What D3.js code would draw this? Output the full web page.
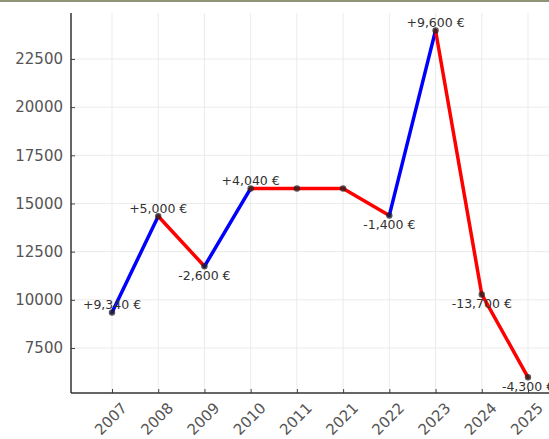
<!DOCTYPE html>
<html>
<head>
<meta charset="utf-8">
<script src="https://cdn.jsdelivr.net/npm/d3@7"></script>
<style>
  body { margin: 0; overflow: hidden; background: #fff; }
  svg { display: block; font-family: "DejaVu Sans", sans-serif; }
</style>
</head>
<body>
<div class="chart"></div>
<script>
// data
let years = ["2007", "2008", "2009", "2010", "2011", "2021", "2022", "2023", "2024", "2025"];
let values = [9340, 14340, 11740, 15780, 15780, 15780, 14380, 23980, 10280, 5980];
let changes = [9340, 5000, -2600, 4040, 0, 0, -1400, 9600, -13700, -4300];
let yTicks = [7500, 10000, 12500, 15000, 17500, 20000, 22500];

let svgWidth = 549;
let svgHeight = 439;

// axes box (right side runs off the picture)
let plotLeft = 71, plotTop = 13, plotBottom = 393;

let svg = d3.select(".chart").append("svg")
  .attr("width", svgWidth)
  .attr("height", svgHeight);

// thin frame line at the very top
svg.append("rect")
  .attr("x", 0).attr("y", 0)
  .attr("width", svgWidth).attr("height", 2)
  .attr("fill", "#8f9477");

let x = d3.scalePoint().domain(years).range([112, 528]);
let y = d3.scaleLinear().domain([5165, 24885]).range([plotBottom, plotTop]);

// grid
let grid = svg.append("g");
grid.selectAll("line.v")
  .data(years)
  .enter().append("line")
  .attr("class", "v")
  .attr("x1", d => x(d)).attr("x2", d => x(d))
  .attr("y1", plotTop).attr("y2", plotBottom)
  .attr("stroke", "#ebebeb").attr("stroke-width", 1);
grid.selectAll("line.h")
  .data(yTicks)
  .enter().append("line")
  .attr("class", "h")
  .attr("x1", plotLeft).attr("x2", svgWidth)
  .attr("y1", d => y(d)).attr("y2", d => y(d))
  .attr("stroke", "#ebebeb").attr("stroke-width", 1);

// y axis with inward ticks
let yAxis = svg.append("g")
  .attr("transform", `translate(${plotLeft},0)`)
  .call(d3.axisLeft(y).tickValues(yTicks).tickSizeInner(-4).tickSizeOuter(0).tickPadding(8).tickFormat(d3.format("d")));
yAxis.select(".domain").remove();
yAxis.selectAll("line").attr("stroke", "#444");
yAxis.selectAll("text")
  .attr("font-size", 15)
  .attr("fill", "#555")
  .attr("font-family", "DejaVu Sans");

// x axis with inward ticks
let xAxis = svg.append("g")
  .attr("transform", `translate(0,${plotBottom})`)
  .call(d3.axisBottom(x).tickSizeInner(-4).tickSizeOuter(0).tickFormat(""));
xAxis.select(".domain").remove();
xAxis.selectAll("line").attr("stroke", "#444");

// rotated year labels
svg.append("g").selectAll("text")
  .data(years)
  .enter().append("text")
  .attr("transform", d => `translate(${x(d) - 1},${plotBottom + 26}) rotate(-45)`)
  .attr("text-anchor", "middle")
  .attr("dominant-baseline", "central")
  .attr("font-size", 15)
  .attr("fill", "#555")
  .text(d => d);

// spines
svg.append("line")
  .attr("x1", plotLeft).attr("x2", plotLeft)
  .attr("y1", plotTop).attr("y2", plotBottom)
  .attr("stroke", "#333").attr("stroke-width", 1.5);
svg.append("line")
  .attr("x1", plotLeft).attr("x2", svgWidth)
  .attr("y1", plotBottom).attr("y2", plotBottom)
  .attr("stroke", "#333").attr("stroke-width", 1.5);

// segments: blue going up, red otherwise
let segs = d3.range(values.length - 1).map(i => ({
  x1: years[i], y1: values[i], x2: years[i + 1], y2: values[i + 1]
}));
svg.append("g").selectAll("line")
  .data(segs)
  .enter().append("line")
  .attr("x1", d => x(d.x1)).attr("y1", d => y(d.y1))
  .attr("x2", d => x(d.x2)).attr("y2", d => y(d.y2))
  .attr("stroke", d => d.y2 > d.y1 ? "#0000ff" : "#ff0000")
  .attr("stroke-width", 3.5)
  .attr("stroke-linecap", "round");

// point markers
svg.append("g").selectAll("circle")
  .data(values)
  .enter().append("circle")
  .attr("cx", (d, i) => x(years[i]))
  .attr("cy", d => y(d))
  .attr("r", 3.2)
  .attr("fill", "#222")
  .attr("fill-opacity", 0.75);

// change labels (skip the flat years)
let fmt = d3.format(",");
let labelData = years.map((yr, i) => ({ year: yr, value: values[i], change: changes[i] }))
  .filter(d => d.change !== 0);
svg.append("g").selectAll("text")
  .data(labelData)
  .enter().append("text")
  .attr("x", d => x(d.year))
  .attr("y", d => y(d.value) + (d.change > 0 ? -8 : 9))
  .attr("text-anchor", "middle")
  .attr("dominant-baseline", "central")
  .attr("font-size", 12.5)
  .attr("fill", "#333")
  .text(d => (d.change > 0 ? "+" : "-") + fmt(Math.abs(d.change)) + " €");
</script>
</body>
</html>
